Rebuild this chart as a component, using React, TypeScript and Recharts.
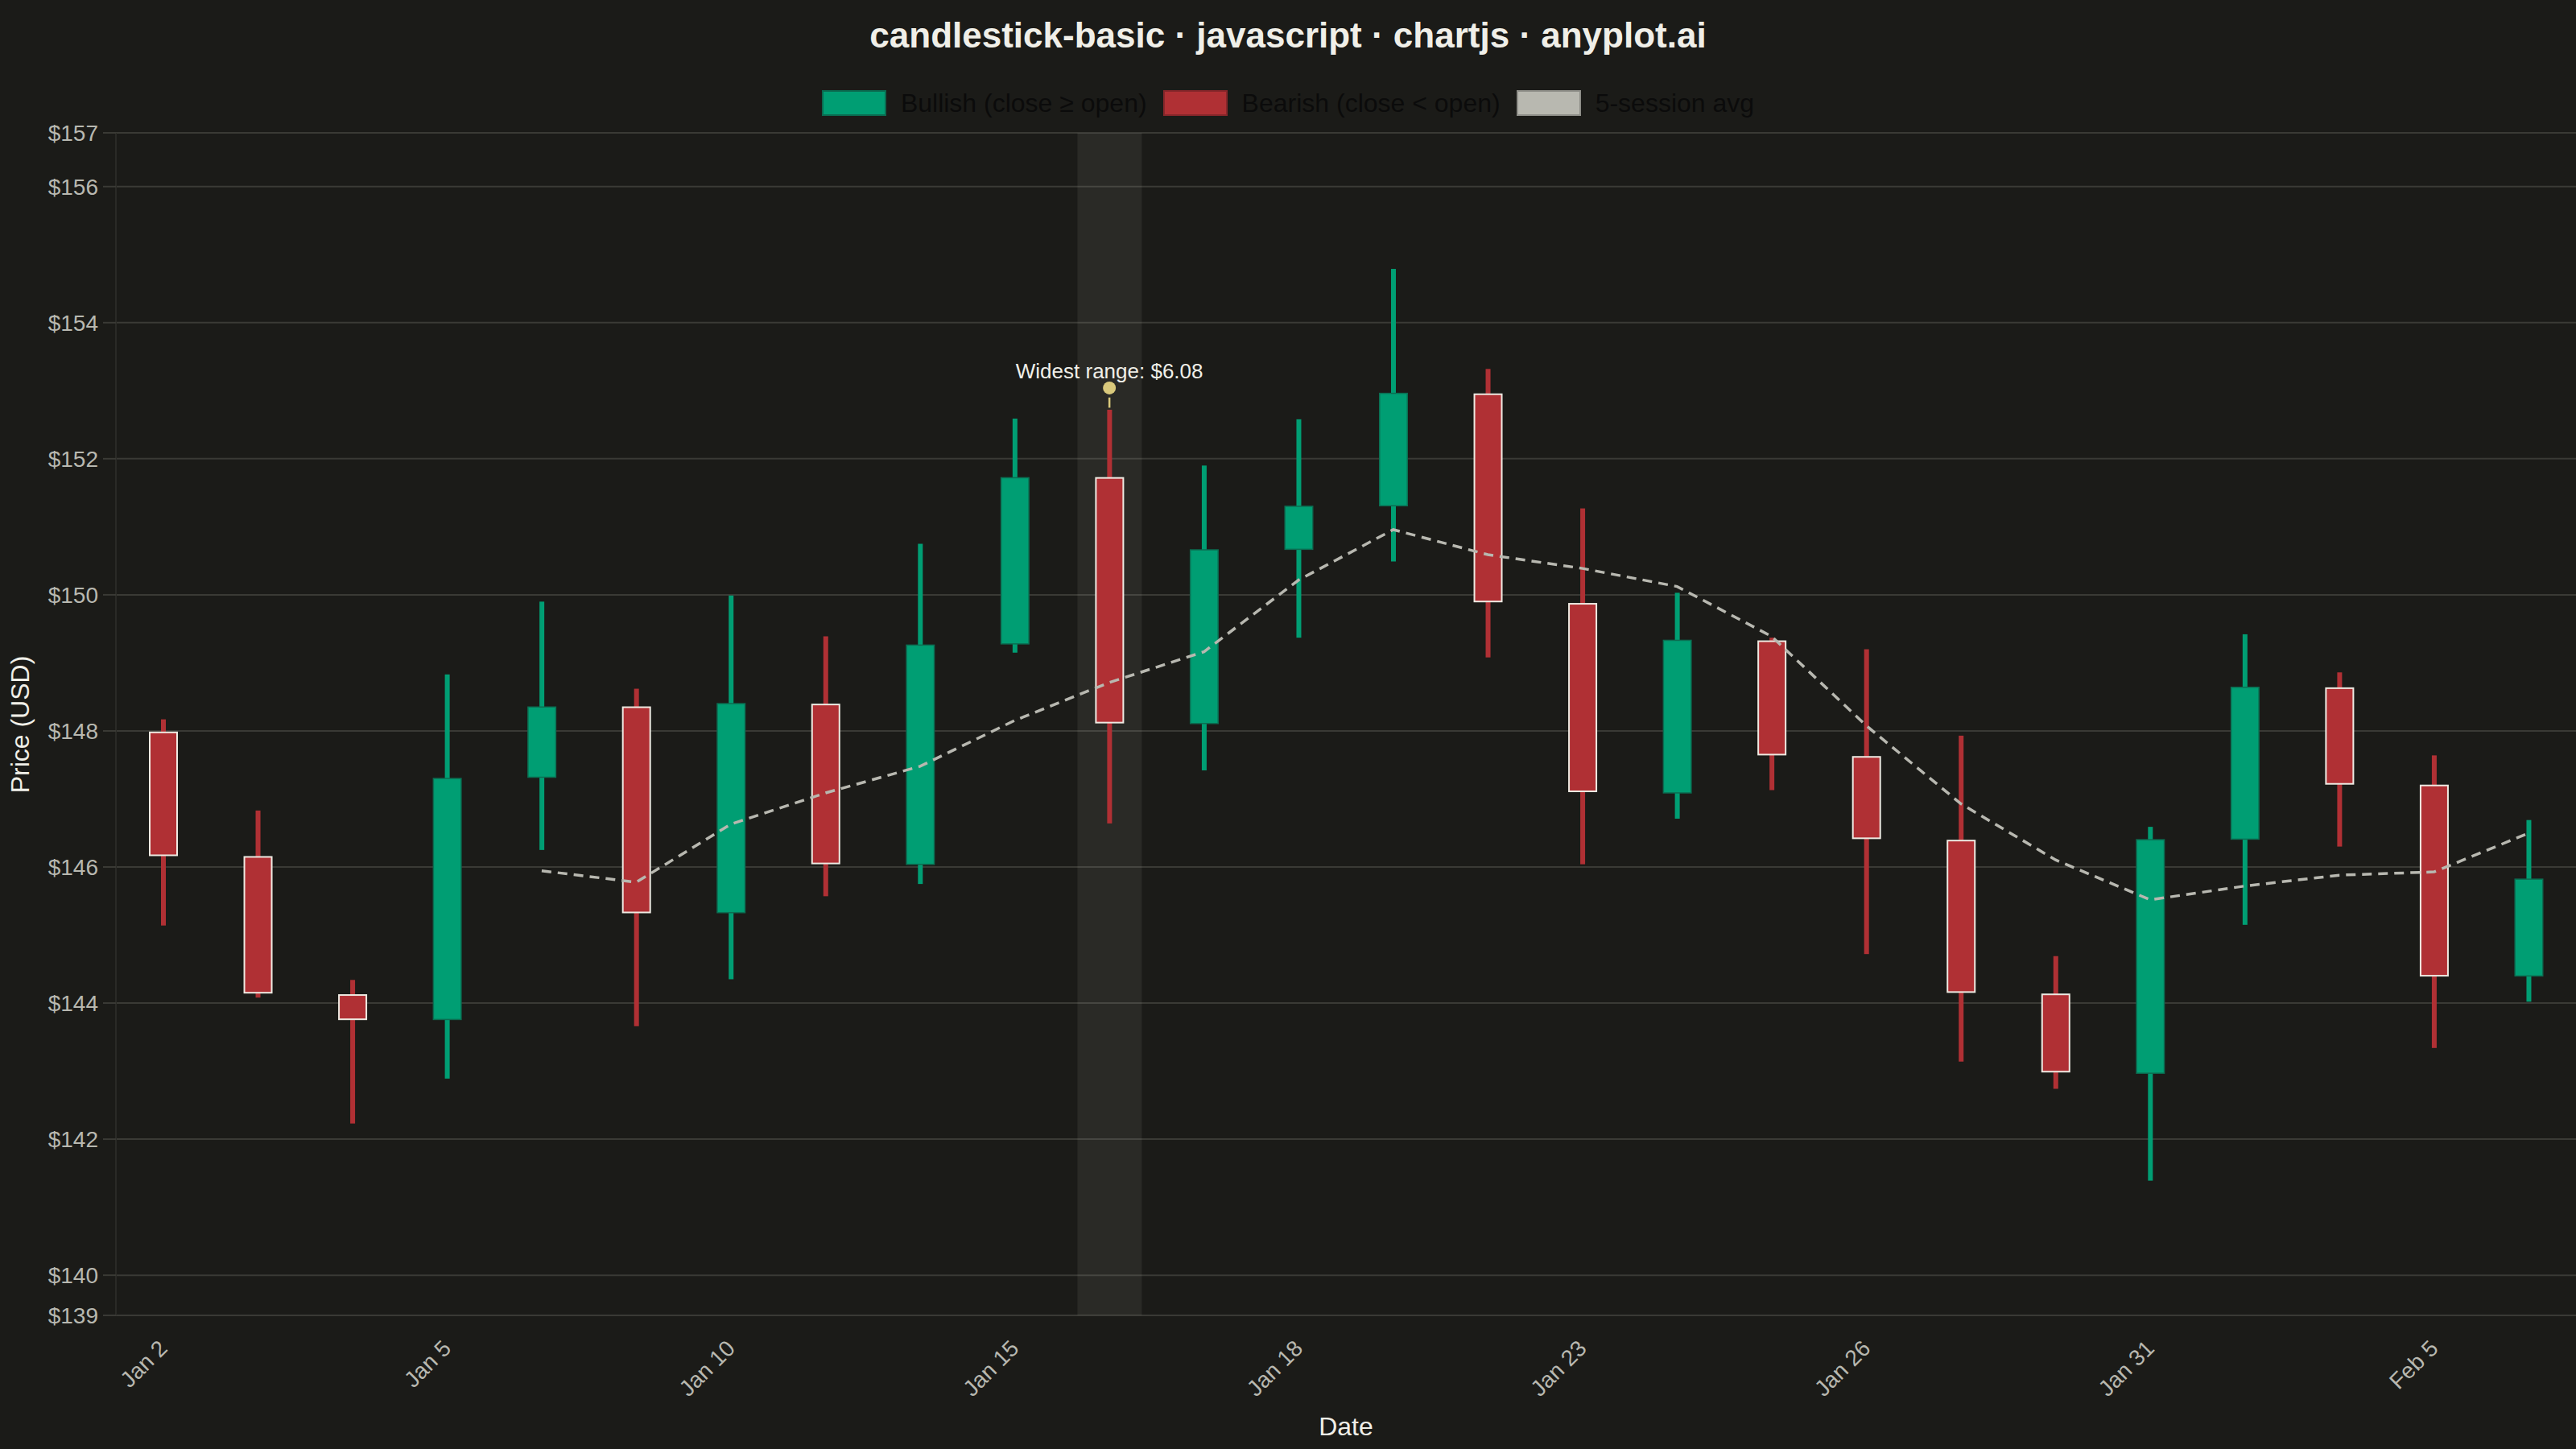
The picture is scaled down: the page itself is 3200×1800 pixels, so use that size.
import { ComposedChart, Bar, Line, XAxis, YAxis, CartesianGrid, ReferenceDot, ReferenceLine } from "recharts"

// trading sessions, Jan 2 – Feb 6
const dates = [
    "Jan 2", "Jan 3", "Jan 4", "Jan 5", "Jan 8", "Jan 9", "Jan 10", "Jan 11", "Jan 12",
    "Jan 15", "Jan 16", "Jan 17", "Jan 18", "Jan 19", "Jan 22", "Jan 23", "Jan 24", "Jan 25",
    "Jan 26", "Jan 29", "Jan 30", "Jan 31", "Feb 1", "Feb 2", "Feb 5", "Feb 6",
]
const opens = [
    147.99, 146.16, 144.13, 143.75, 147.31, 148.36, 145.32, 148.40, 146.03,
    149.27, 151.73, 148.10, 150.66, 151.30, 152.96, 149.88, 147.08, 149.33,
    147.63, 146.40, 144.14, 142.96, 146.40, 148.64, 147.21, 144.39,
]
const closes = [
    146.16, 144.14, 143.75, 147.31, 148.36, 145.32, 148.41, 146.04, 149.27,
    151.73, 148.11, 150.67, 151.31, 152.97, 149.89, 147.10, 149.34, 147.64,
    146.41, 144.15, 142.98, 146.41, 148.65, 147.21, 144.39, 145.83,
]
const highs = [
    148.17, 146.83, 144.34, 148.83, 149.90, 148.62, 149.99, 149.39, 150.75,
    152.59, 152.72, 151.90, 152.58, 154.79, 153.32, 151.27, 150.03, 149.37,
    149.20, 147.93, 144.69, 146.59, 149.42, 148.86, 147.64, 146.69,
]
const lows = [
    145.14, 144.08, 142.23, 142.89, 146.25, 143.66, 144.35, 145.57, 145.75,
    149.15, 146.64, 147.42, 149.37, 150.49, 149.08, 146.04, 146.71, 147.13,
    144.72, 143.14, 142.74, 141.39, 145.15, 146.30, 143.34, 144.02,
]

const Y_MIN = 139.41
const Y_MAX = 156.79
const yTicks = [139.41, 140, 142, 144, 146, 148, 150, 152, 154, 156, 156.79]
const MA_WINDOW = 5

const BULL = "#009E73"
const BEAR = "#B03034"
const AVG = "#B8B8B0"
const BG = "#1B1B18"
const GRID = "#3A3A35"
const MUTED = "#B8B8B0"
const TEXT = "#F0EFE8"
const MARK = "#D9C97C"
const FONT = '"Liberation Sans", Arial, Helvetica, sans-serif'

const ranges = highs.map((h, i) => h - lows[i])
const widest = ranges.indexOf(Math.max(...ranges))

const data = dates.map((date, i) => {
    let ma: number | null = null
    if (i >= MA_WINDOW - 1) {
        const win = closes.slice(i - MA_WINDOW + 1, i + 1)
        ma = win.reduce((a, b) => a + b, 0) / MA_WINDOW
    }
    return {
        date,
        open: opens[i],
        close: closes[i],
        high: highs[i],
        low: lows[i],
        range: [lows[i], highs[i]],
        ma,
    }
})

const legendItems = [
    { label: "Bullish (close \u2265 open)", fill: BULL, border: "#0A6B50" },
    { label: "Bearish (close < open)", fill: BEAR, border: "#86262A" },
    { label: `${MA_WINDOW}-session avg`, fill: AVG, border: "#8E8E88" },
]

function Candle(props: any) {
    const { x, y, width, height, payload, index } = props
    if (!payload) return null
    const top = Math.min(y, y + height)
    const h = Math.abs(height)
    const ppu = h / (payload.high - payload.low)
    const px = (v: number) => top + (payload.high - v) * ppu
    const cx = x + width / 2
    const up = payload.close >= payload.open
    const bTop = px(Math.max(payload.open, payload.close))
    const bBot = px(Math.min(payload.open, payload.close))
    return (
        <g>
            {index === widest && (
                <rect x={cx - 40} width={80} y={px(Y_MAX)} height={px(Y_MIN) - px(Y_MAX)}
                    fill="rgba(240,240,230,0.07)" />
            )}
            <rect x={cx - 3} width={6} y={top} height={h} fill={up ? BULL : BEAR} />
            {up ? (
                <rect x={cx - width / 2 + 0.75} width={width - 1.5} y={bTop + 0.75} height={Math.max(bBot - bTop - 1.5, 1)}
                    fill={BULL} stroke="#0B6E52" strokeWidth={1.5} />
            ) : (
                <rect x={cx - width / 2 + 1} width={width - 2} y={bTop + 1} height={Math.max(bBot - bTop - 2, 1)}
                    fill={BEAR} stroke="#EEEAE2" strokeWidth={2} />
            )}
        </g>
    )
}

function DateTick(props: any) {
    const { x, y, payload } = props
    const ay = y + 36
    return (
        <text x={x} y={ay} transform={`rotate(-45, ${x}, ${ay})`} textAnchor="end" dominantBaseline="central"
            fill={MUTED} fontSize={28} fontFamily={FONT}>
            {payload.value}
        </text>
    )
}

export default function App() {
    return (
        <div style={{
            position: "fixed", left: 0, top: 0, width: 3200, height: 1800,
            background: BG, overflow: "hidden", fontFamily: FONT,
        }}>
            <div style={{
                position: "absolute", top: 22, left: 0, width: 3200, textAlign: "center",
                fontSize: 44, lineHeight: "44px", fontWeight: "bold", color: TEXT,
            }}>
                candlestick-basic · javascript · chartjs · anyplot.ai
            </div>

            <div style={{
                position: "absolute", top: 112, left: 0, width: 3200, height: 32,
                display: "flex", justifyContent: "center", alignItems: "center",
            }}>
                {legendItems.map((item, i) => (
                    <div key={item.label} style={{ display: "flex", alignItems: "center", marginLeft: i === 0 ? 0 : 20 }}>
                        <div style={{
                            width: 80, height: 32, boxSizing: "border-box",
                            background: item.fill, border: `2px solid ${item.border}`,
                        }} />
                        <span style={{ marginLeft: 18, fontSize: 32, lineHeight: "32px", color: "#0B0B0B" }}>
                            {item.label}
                        </span>
                    </div>
                ))}
            </div>

            <ComposedChart width={3200} height={1800} data={data}
                margin={{ top: 165, right: 0, bottom: 0, left: 0 }}>
                <CartesianGrid vertical={false} stroke={GRID} strokeWidth={2} />
                <XAxis dataKey="date" interval={2} tickLine={false} axisLine={false} height={166}
                    tickSize={0} tickMargin={0} tick={(p: any) => <DateTick {...p} />} />
                <YAxis type="number" domain={[Y_MIN, Y_MAX]} ticks={yTicks} interval={0} allowDataOverflow
                    tickFormatter={(v: number) => `$${Math.round(v)}`} width={144} tickSize={16} tickMargin={6}
                    tick={{ fill: MUTED, fontSize: 28, fontFamily: FONT }}
                    tickLine={{ stroke: GRID, strokeWidth: 2 }} axisLine={{ stroke: "#2A2A26", strokeWidth: 2 }} />
                <Bar dataKey="range" barSize={36} shape={(p: any) => <Candle {...p} />} isAnimationActive={false} />
                <Line dataKey="ma" type="linear" stroke={AVG} strokeWidth={3.5} strokeDasharray="12 8"
                    dot={false} activeDot={false} connectNulls={false} isAnimationActive={false} />
                <ReferenceLine ifOverflow="visible" stroke={MARK} strokeWidth={2.5}
                    segment={[
                        { x: dates[widest], y: highs[widest] + 0.18 },
                        { x: dates[widest], y: highs[widest] + 0.03 },
                    ]} />
                <ReferenceDot x={dates[widest]} y={highs[widest] + 0.32} r={8} fill={MARK} stroke="none" ifOverflow="visible"
                    label={{
                        value: `Widest range: $${ranges[widest].toFixed(2)}`, position: "top", offset: 4,
                        fill: TEXT, fontSize: 26, fontFamily: FONT,
                    }} />
            </ComposedChart>

            <div style={{
                position: "absolute", left: 1472, top: 1756, width: 400, textAlign: "center",
                fontSize: 32, lineHeight: "32px", color: TEXT,
            }}>
                Date
            </div>
            <div style={{
                position: "absolute", left: 24.5 - 200, top: 900 - 16, width: 400, textAlign: "center",
                fontSize: 32, lineHeight: "32px", color: TEXT, transform: "rotate(-90deg)",
            }}>
                Price (USD)
            </div>
        </div>
    )
}
